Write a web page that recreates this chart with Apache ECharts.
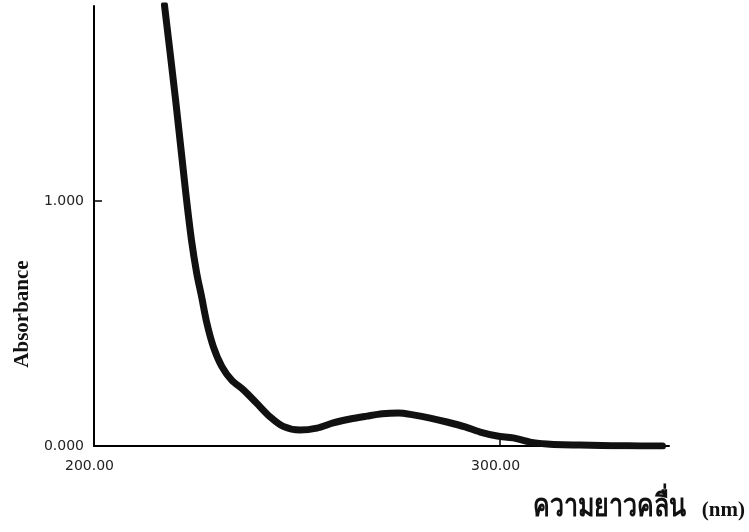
<!DOCTYPE html>
<html>
<head>
<meta charset="utf-8">
<script src="https://cdn.jsdelivr.net/npm/echarts@6/dist/echarts.min.js"></script>
<style>
html,body{margin:0;padding:0;background:#fff;}
#chart{width:749px;height:532px;}
</style>
</head>
<body>
<div id="chart"></div>
<script>
// Wavelength (nm) and absorbance
var wavelengths = [217.35, 220.1, 222.6, 224.0, 225.3, 226.5, 227.8, 229.4, 231.5, 233.9, 236.8, 240.1, 243.3, 246.6, 250.7, 254.9, 258.9, 263.1, 267.2, 271.0, 275.0, 278.6, 282.8, 286.9, 291.4, 295.1, 299.3, 303.2, 307.4, 311.6, 315.5, 319.7, 325.0, 330.0, 335.0, 340.0];
var absorbance  = [1.800, 1.412, 1.033, 0.841, 0.705, 0.609, 0.501, 0.405, 0.324, 0.269, 0.229, 0.174, 0.120, 0.080, 0.065, 0.073, 0.094, 0.110, 0.122, 0.132, 0.135, 0.127, 0.114, 0.098, 0.078, 0.057, 0.041, 0.033, 0.016, 0.008, 0.005, 0.004, 0.002, 0.001, 0.000, 0.000];
var xTickLabels = {200: '200.00', 300: '300.00'};
var yTickLabels = {0: '0.000', 1: '1.000'};
var xTitleThai = 'ความยาวคลื่น';
var xTitleUnit = '(nm)';
var yTitle = 'Absorbance';

var points = wavelengths.map(function (w, i) { return [w, absorbance[i]]; });

var chart = echarts.init(document.getElementById('chart'), null, {renderer: 'canvas'});
chart.setOption({
  backgroundColor: '#ffffff',
  animation: false,
  grid: {left: 94, top: 6, right: 80, bottom: 86, containLabel: false},
  xAxis: {
    type: 'value',
    min: 200, max: 341.6, interval: 100,
    axisLine: {show: true, lineStyle: {color: '#000', width: 2}},
    axisTick: {show: true, inside: true, length: 7, lineStyle: {color: '#000', width: 1.5}},
    splitLine: {show: false},
    axisLabel: {
      margin: 13,
      color: '#222',
      fontFamily: '"DejaVu Sans", Verdana, sans-serif',
      fontSize: 14,
      padding: [0, 9, 0, 0],
      showMaxLabel: false,
      formatter: function (v) { return xTickLabels[v] || ''; }
    }
  },
  yAxis: {
    type: 'value',
    min: 0, max: 1.796, interval: 1,
    axisLine: {show: true, lineStyle: {color: '#000', width: 2}},
    axisTick: {show: true, inside: true, length: 8, lineStyle: {color: '#000', width: 1.5}},
    splitLine: {show: false},
    axisLabel: {
      margin: 10,
      color: '#222',
      fontFamily: '"DejaVu Sans", Verdana, sans-serif',
      fontSize: 14,
      showMaxLabel: false,
      formatter: function (v) { return yTickLabels[v] || ''; }
    }
  },
  series: [{
    type: 'line',
    data: points,
    smooth: 0.3,
    showSymbol: false,
    clip: true,
    lineStyle: {color: '#111', width: 7, cap: 'round', join: 'round'}
  }],
  graphic: [
    {
      type: 'text',
      x: 23, y: 314,
      rotation: Math.PI / 2,
      style: {
        text: yTitle,
        fill: '#111',
        align: 'center',
        verticalAlign: 'middle',
        font: 'bold 21px "Liberation Serif", "Times New Roman", serif'
      }
    },
    {
      type: 'text',
      x: 686, y: 508,
      scaleY: 1.25,
      style: {
        text: xTitleThai,
        fill: '#111',
        align: 'right',
        verticalAlign: 'middle',
        font: 'bold 25px "Liberation Serif", serif'
      }
    },
    {
      type: 'text',
      x: 745, y: 511,
      style: {
        text: xTitleUnit,
        fill: '#111',
        align: 'right',
        verticalAlign: 'middle',
        font: 'bold 21px "Liberation Serif", "Times New Roman", serif'
      }
    }
  ]
});
</script>
</body>
</html>
